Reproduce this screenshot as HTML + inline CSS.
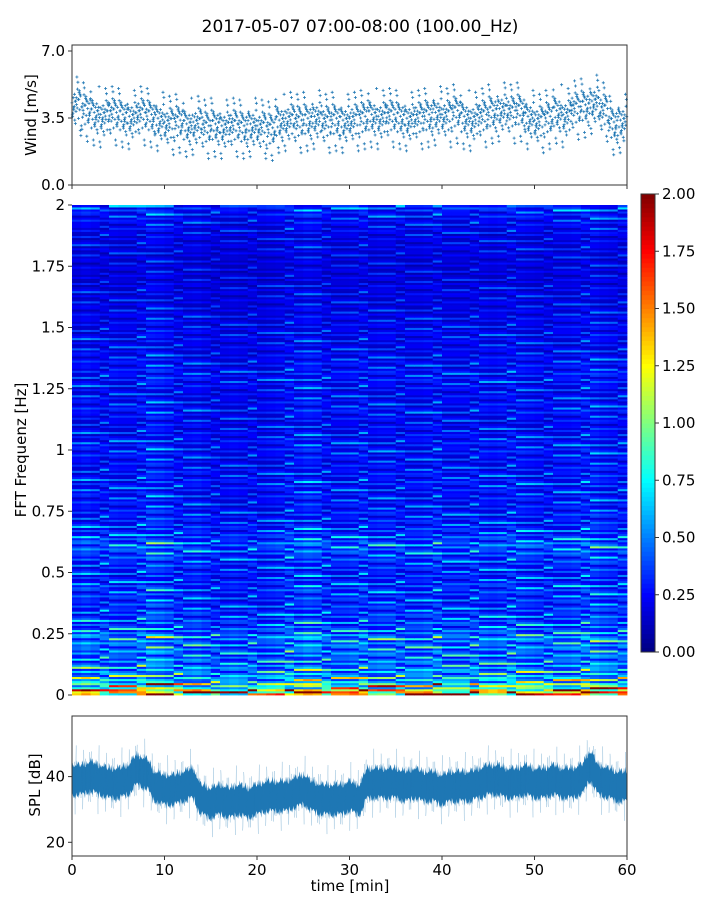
<!DOCTYPE html>
<html><head><meta charset="utf-8">
<style>
body{margin:0;background:#fff;}
svg text{font-family:"DejaVu Sans","Liberation Sans",sans-serif;fill:#000;}
</style></head>
<body>
<svg id="fig" width="720" height="900" xmlns="http://www.w3.org/2000/svg">
<text x="360" y="32" font-size="17" text-anchor="middle">2017-05-07 07:00-08:00 (100.00_Hz)</text>
<g id="wind"></g>
<g id="spec"></g>
<g id="cbar"></g>
<g id="spl"></g>
<text transform="translate(36,115) rotate(-90)" font-size="15" text-anchor="middle">Wind [m/s]</text>
<text transform="translate(26,450) rotate(-90)" font-size="15" text-anchor="middle">FFT Frequenz [Hz]</text>
<text transform="translate(40,785) rotate(-90)" font-size="15" text-anchor="middle">SPL [dB]</text>
<text x="350" y="891" font-size="15" text-anchor="middle">time [min]</text>
</svg>
<script>
// ---- data ----
const timeTicks=[0,10,20,30,40,50,60];
const windTicks=[0.0,3.5,7.0];
const windTickLabels=["0.0","3.5","7.0"];
const windMean=[4.2,3.9,3.7,3.6,3.7,3.6,3.5,3.7,3.6,3.4,3.2,3.3,3.1,3.2,3.0,3.1,3.0,3.1,3.0,3.1,3.0,2.9,3.3,3.4,3.3,3.4,3.5,3.3,3.4,3.3,3.4,3.5,3.6,3.5,3.6,3.5,3.4,3.5,3.6,3.7,3.6,3.8,3.5,3.4,3.6,3.8,3.9,3.8,3.9,3.5,3.3,3.5,3.8,3.6,4.0,4.1,4.3,3.9,3.2,3.3];
const windOffsets=[0.1,-0.4,0.6,-0.9,0.3,-0.2,0.9,-0.6,0.4,-1.5,0.2,0.7,-0.3,1.3,-0.7,0.0,0.5,-1.1,0.8,-0.1,0.3,-0.5,1.6,-1.8,0.2,-0.3,0.6,-0.8,0.4,-0.2];
const freqTicks=[0,0.25,0.5,0.75,1,1.25,1.5,1.75,2];
const freqTickLabels=["0","0.25","0.5","0.75","1","1.25","1.5","1.75","2"];
const freqProfile=[1.45,0.95,0.7,0.6,0.55,0.5,0.48,0.5,0.5,0.55,0.45,0.42,0.4,0.38,0.36,0.35,0.36,0.38,0.35,0.33,0.34,0.36,0.38,0.42,0.46,0.4,0.36,0.34,0.32,0.32,0.3,0.3,0.3,0.3,0.32,0.3,0.3,0.28,0.28,0.3,0.3,0.3,0.28,0.27,0.26,0.27,0.3,0.28,0.27,0.26,0.28,0.3,0.3,0.28,0.28,0.26,0.25,0.25,0.26,0.25,0.24,0.24,0.23,0.22,0.22,0.22,0.22,0.2,0.2,0.2,0.2,0.2,0.22,0.22,0.22,0.24,0.25,0.27,0.3,0.35];
const timeMod=[1.0,1.1,1.0,1.0,1.05,1.0,1.0,1.1,1.25,1.2,1.1,1.0,1.0,1.05,0.95,0.9,0.9,0.95,0.9,0.95,0.9,0.95,1.0,1.1,1.1,1.2,1.15,1.0,1.0,1.0,1.05,1.1,1.0,1.05,1.05,1.0,1.0,1.0,1.05,1.1,1.0,1.0,1.0,1.05,1.05,1.0,1.05,1.1,1.1,1.05,1.0,1.0,1.05,1.05,1.1,1.15,1.2,1.1,1.05,1.05];
const cellPattern=[1.0,0.6,1.3,0.8,1.6,0.5,1.1,0.9,1.2,0.7,1.9,0.6,1.1,0.85,1.4,0.55,1.0,0.75,0.65,1.2,0.5,0.9,2.1];
const cbarTicks=[0,0.25,0.5,0.75,1,1.25,1.5,1.75,2];
const cbarTickLabels=["0.00","0.25","0.50","0.75","1.00","1.25","1.50","1.75","2.00"];
const splTicks=[20,40];
const splMean=[39,39,40,39,38,38,39,42,41,37,36,36,37,38,33,32,33,32,33,32,33,34,34,34,35,36,34,33,33,33,34,33,38,38,38,38,37,38,37,37,36,37,37,37,38,39,39,38,38,39,38,38,39,38,38,39,43,39,38,37];
const splOffsets=[0,3,-4,2,-2,5,-5,1,-3,4,-1,6,-6,2,-2,3,-3,0,7,-7,1,-1];

const NS="http://www.w3.org/2000/svg";
function mk(tag,attrs,parent){const e=document.createElementNS(NS,tag);for(const k in attrs)e.setAttribute(k,attrs[k]);parent.appendChild(e);return e;}
const X0=72,X1=627;
const xs=t=>X0+(t/60)*(X1-X0);

// ---- wind panel ----
(function(){
const g=document.getElementById('wind');
const T=45,B=185;const ys=v=>185-(v/7)*(185-51);
let d="";
for(let m=0;m<60;m++){for(let k=0;k<windOffsets.length;k++){
 const t=m+k/windOffsets.length;const o=windOffsets[(k*7+m*3)%windOffsets.length];
 const v=windMean[m]+o*0.9;const x=xs(t),y=ys(v);
 d+=`M${(x-1.5).toFixed(1)} ${y.toFixed(1)}h3M${x.toFixed(1)} ${(y-1.5).toFixed(1)}v3`;}}
const p=mk('path',{d:d,stroke:'#1f77b4','stroke-width':0.8,fill:'none'},g);


const fr=mk('rect',{x:X0,y:T,width:X1-X0,height:B-T,fill:'none',stroke:'#333','stroke-width':1},g);


windTicks.forEach((v,i)=>{const y=ys(v);mk('line',{x1:X0-4,x2:X0,y1:y,y2:y,stroke:'#333'},g);
 const t=mk('text',{x:X0-7,y:y+5,'font-size':15,'text-anchor':'end'},g);t.textContent=windTickLabels[i];
 
 });
timeTicks.forEach(v=>{mk('line',{x1:xs(v),x2:xs(v),y1:B,y2:B+4,stroke:'#333'},g);});
})();

// ---- colormap ----
function jet(v){v=Math.max(0,Math.min(1,v));
 const r=Math.min(1,Math.max(0,1.5-Math.abs(4*v-3))),gg=Math.min(1,Math.max(0,1.5-Math.abs(4*v-2))),b=Math.min(1,Math.max(0,1.5-Math.abs(4*v-1)));
 return `rgb(${Math.round(r*255)},${Math.round(gg*255)},${Math.round(b*255)})`;}

// ---- spectrogram ----
(function(){
const g=document.getElementById('spec');
const T=205,B=695;const ys=f=>B-(f/2)*(B-T);
const sub=3;
const nr=freqProfile.length*sub,nc=timeMod.length;const rh=(B-T)/nr,cw=(X1-X0)/nc;
const P=cellPattern.length;
for(let r=0;r<nr;r++){for(let c=0;c<nc;c++){
 const base=freqProfile[Math.floor(r/sub)];
 const pat=cellPattern[(r*7+Math.floor(c/4)*5+(c%4===3?11:0))%P];
 const v=base*timeMod[c]*pat*0.92;
 const cell=mk('rect',{x:(X0+c*cw).toFixed(2),y:(B-(r+1)*rh).toFixed(2),width:(cw+0.4).toFixed(2),height:(rh+0.4).toFixed(2),fill:jet(v/2)},g);
 
 }}
freqTicks.forEach((f,i)=>{const y=ys(f);mk('line',{x1:X0-4,x2:X0,y1:y,y2:y,stroke:'#333'},g);
 const t=mk('text',{x:X0-7,y:y+5,'font-size':15,'text-anchor':'end'},g);t.textContent=freqTickLabels[i];
 
 });
})();

// ---- colorbar ----
(function(){
const g=document.getElementById('cbar');
const L=641,W=14,T=194,B=652;const ys=v=>B-(v/2)*(B-T);
for(let i=0;i<100;i++){mk('rect',{x:L,y:(B-(i+1)*(B-T)/100).toFixed(2),width:W,height:((B-T)/100+0.5).toFixed(2),fill:jet((i+0.5)/100)},g);}
mk('rect',{x:L,y:T,width:W,height:B-T,fill:'none',stroke:'#333'},g);
cbarTicks.forEach((v,i)=>{const y=ys(v);mk('line',{x1:L+W,x2:L+W+4,y1:y,y2:y,stroke:'#333'},g);
 const t=mk('text',{x:L+W+7,y:y+5,'font-size':15},g);t.textContent=cbarTickLabels[i];
 
 });
})();

// ---- SPL panel ----
(function(){
const g=document.getElementById('spl');
const T=716,B=856;const ys=v=>842.3-((v-20)/20)*65.7;
const mean=t=>{const i=Math.min(59,Math.floor(t)),f=t-i,j=Math.min(59,i+1);
 const s=f*f*(3-2*f);return splMean[i]*(1-s)+splMean[j]*s;};
const S=splOffsets.length;
let up="",lo="";const N=900;
for(let k=0;k<=N;k++){const t=k*60/N;up+=`${xs(t).toFixed(1)},${ys(mean(t)+3.5+Math.abs(splOffsets[(k*5)%S])*0.35).toFixed(1)} `;}
for(let k=N;k>=0;k--){const t=k*60/N;lo+=`${xs(t).toFixed(1)},${ys(mean(t)-3.5-Math.abs(splOffsets[(k*3)%S])*0.35).toFixed(1)} `;}
const band=mk('polygon',{points:up+lo,fill:'#1f77b4'},g);


let pts="";const M=1600;
for(let k=0;k<=M;k++){const t=k*60/M;const o=splOffsets[(k*7)%S]*(k%3===0?1.5:1.1);pts+=`${xs(t).toFixed(1)},${ys(mean(t)+o).toFixed(1)} `;}
const line=mk('polyline',{points:pts,fill:'none',stroke:'#1f77b4','stroke-width':0.5,'stroke-opacity':0.3},g);


mk('rect',{x:X0,y:T,width:X1-X0,height:B-T,fill:'none',stroke:'#333'},g);
splTicks.forEach(v=>{const y=ys(v);mk('line',{x1:X0-4,x2:X0,y1:y,y2:y,stroke:'#333'},g);
 const t=mk('text',{x:X0-7,y:y+5,'font-size':15,'text-anchor':'end'},g);t.textContent=String(v);
 
 });
timeTicks.forEach(v=>{mk('line',{x1:xs(v),x2:xs(v),y1:B,y2:B+4,stroke:'#333'},g);
 const t=mk('text',{x:xs(v),y:B+19,'font-size':15,'text-anchor':'middle'},g);t.textContent=String(v);
 
 });
})();
</script>
</body></html>
